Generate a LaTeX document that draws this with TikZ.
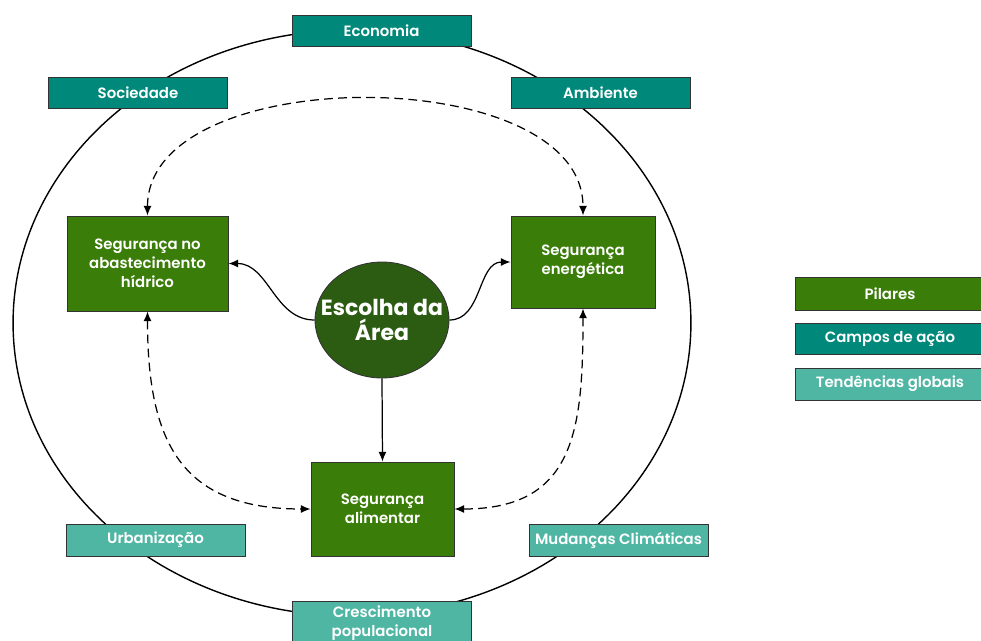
\documentclass[tikz,border=0pt]{standalone}
\usepackage{fontspec}
\setmainfont{Poppins}[UprightFont=* Medium,BoldFont=* SemiBold]
\newfontfamily\escolhafonte{Poppins}[UprightFont=* Bold]
\usetikzlibrary{shapes.geometric,arrows.meta}

\definecolor{pilarcor}{RGB}{58,125,8}
\definecolor{campocor}{RGB}{0,137,122}
\definecolor{tendcor}{RGB}{80,182,164}
\definecolor{escolhacor}{RGB}{44,92,18}

\begin{document}
\begin{tikzpicture}[x=0.02cm,y=-0.02cm,>={Latex[length=5.5pt,width=4.5pt]},
  caixa/.style={draw=black!80,line width=0.5pt,text=white,inner sep=0pt,align=center,
    font=\fontsize{8.5}{10.8}\selectfont\bfseries},
  pilar/.style={caixa,fill=pilarcor},
  campo/.style={caixa,fill=campocor,minimum width=3.58cm,minimum height=0.62cm},
  tendencia/.style={caixa,fill=tendcor,minimum width=3.58cm,minimum height=0.64cm},
  liga/.style={line width=0.7pt,->},
  tracejado/.style={line width=0.7pt,dash pattern=on 5pt off 3pt,<->}]

\clip (0,0) rectangle (981,640);

\draw [line width=0.8pt](352,323) ellipse (6.78cm and 5.86cm);

% campos de acao
\node (eco) at (381.5,30.5)[campo]{Economia};
\node (soc) at (138,92.5)[campo]{Sociedade};
\node (amb) at (600.5,92.5)[campo]{Ambiente};

% tendencias globais
\node (urb) at (155.5,540)[tendencia]{Urbanização};
\node (mud) at (618.5,540)[tendencia]{Mudanças Climáticas};
\node (cre) at (382,623)[tendencia,minimum height=0.88cm]{Crescimento\\populacional};

% pilares
\node (hid) at (147.5,263.5)[pilar,minimum width=3.22cm,minimum height=1.9cm]{Segurança no\\abastecimento\\hídrico};
\node (ene) at (583,262)[pilar,minimum width=2.88cm,minimum height=1.84cm]{Segurança\\energética};
\node (ali) at (382.5,509)[pilar,minimum width=2.86cm,minimum height=1.88cm]{Segurança\\alimentar};

\node (esc) at (382,320)[ellipse,draw=black!80,line width=0.5pt,fill=escolhacor,
  minimum width=2.68cm,minimum height=2.32cm,inner sep=0pt]{};
\node (esctxt) at (esc.center)[text=white,align=center,inner sep=0pt,
  font=\fontsize{12.5}{14.5}\escolhafonte]{Escolha da\\Área};

\draw[liga](esc.west) to[out=180,in=0] (hid.east);
\draw[liga](esc.east) to[out=0,in=180] (ene.west);
\draw[liga](esc.south) -- (ali.north);

\draw[tracejado](hid.north) to[out=90,in=90,looseness=0.91] (ene.north);
\draw[tracejado](hid.south) to[out=-90,in=180,looseness=1.3] (ali.west);
\draw[tracejado](ene.south) to[out=-90,in=0,looseness=1.3] (ali.east);

% legenda
\node (lpil) at (890,293.5)[pilar,minimum width=3.8cm,minimum height=0.66cm]{Pilares};
\node (lcam) at (890,338.5)[caixa,fill=campocor,minimum width=3.8cm,minimum height=0.62cm]{Campos de ação};
\node (lten) at (890,384)[caixa,fill=tendcor,minimum width=3.8cm,minimum height=0.64cm]{Tendências globais};

\end{tikzpicture}
\end{document}
